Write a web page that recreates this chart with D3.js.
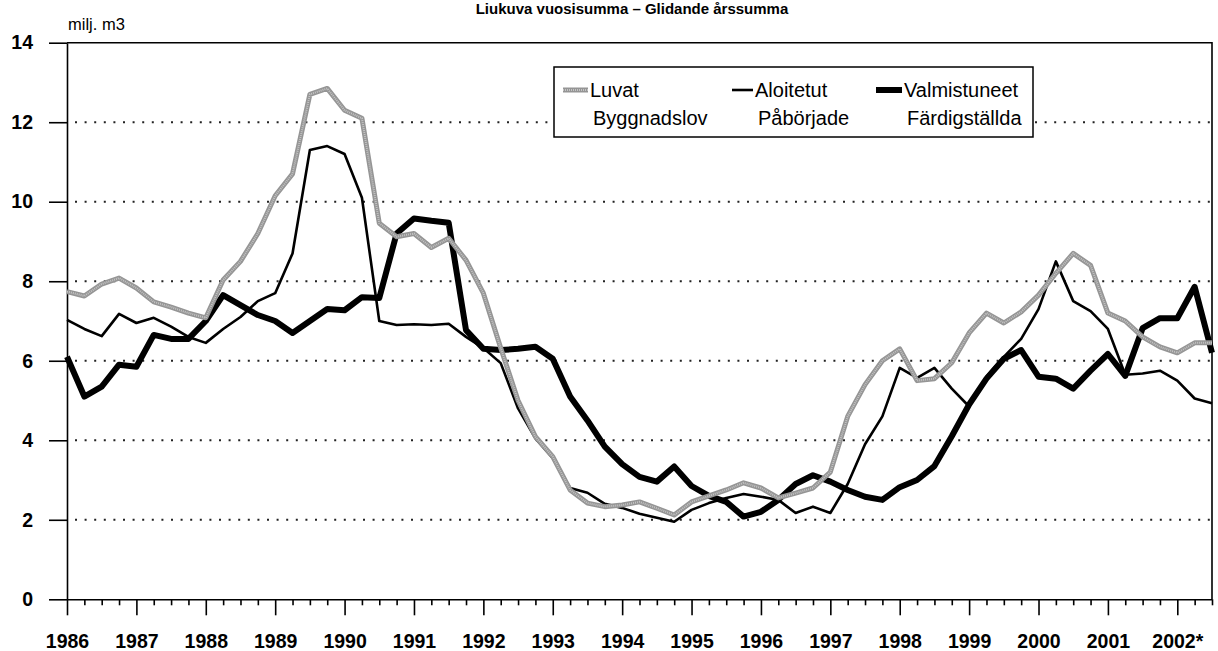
<!DOCTYPE html>
<html>
<head>
<meta charset="utf-8">
<script src="https://cdn.jsdelivr.net/npm/d3@7"></script>
<style>
  body { margin: 0; background: #fff; }
  svg { display: block; font-family: "Liberation Sans", Arial, sans-serif; }
</style>
</head>
<body>
<svg id="chart"></svg>
<script>
// quarterly moving annual sums, 1986 Q1 .. 2002 Q3, million m3
const startYear = 1986;
const yearLabels = ["1986", "1987", "1988", "1989", "1990", "1991", "1992", "1993", "1994",
  "1995", "1996", "1997", "1998", "1999", "2000", "2001", "2002*"];
const yTicks = [0, 2, 4, 6, 8, 10, 12, 14];

const luvat = [
  7.74, 7.63, 7.93, 8.08, 7.83, 7.48, 7.35, 7.2, 7.08, 8.03, 8.5, 9.2,
  10.15, 10.7, 12.7, 12.85, 12.3, 12.1, 9.46, 9.12, 9.2, 8.85, 9.08, 8.53,
  7.7, 6.32, 5.0, 4.09, 3.59, 2.75, 2.42, 2.33, 2.37, 2.45, 2.29, 2.12,
  2.45, 2.6, 2.75, 2.93, 2.8, 2.55, 2.67, 2.8, 3.2, 4.6, 5.4, 6.0,
  6.3, 5.5, 5.55, 5.95, 6.7, 7.2, 6.95, 7.23, 7.65, 8.2, 8.7, 8.4,
  7.2, 7.0, 6.6, 6.35, 6.2, 6.45, 6.45
];
const aloitetut = [
  7.03, 6.8, 6.62, 7.18, 6.95, 7.08, 6.86, 6.6, 6.45, 6.8, 7.1, 7.5,
  7.7, 8.7, 11.3, 11.4, 11.2, 10.1, 7.0, 6.9, 6.92, 6.9, 6.93, 6.6,
  6.32, 5.94, 4.8, 4.05, 3.55, 2.8, 2.68, 2.4, 2.3, 2.15, 2.05, 1.95,
  2.25, 2.42, 2.55, 2.65, 2.58, 2.5, 2.17, 2.33, 2.17, 2.9, 3.9, 4.6,
  5.82, 5.57, 5.82, 5.3, 4.85, 5.6, 6.1, 6.55, 7.3, 8.5, 7.5, 7.25,
  6.8, 5.65, 5.68, 5.75, 5.5, 5.05, 4.93
];
const valmistuneet = [
  6.1, 5.1, 5.35, 5.9, 5.85, 6.65, 6.55, 6.55, 7.0, 7.65, 7.4, 7.15,
  7.0, 6.7, 7.0, 7.3, 7.27, 7.6, 7.58, 9.2, 9.58, 9.52, 9.47, 6.77,
  6.3, 6.27, 6.3, 6.35, 6.05, 5.1, 4.5, 3.84, 3.4, 3.08, 2.96, 3.34,
  2.85, 2.6, 2.45, 2.08, 2.2, 2.5, 2.9, 3.12, 2.96, 2.75, 2.58, 2.5,
  2.82, 3.0, 3.35, 4.1, 4.9, 5.55, 6.05, 6.27, 5.6, 5.55, 5.3, 5.75,
  6.17, 5.62, 6.82, 7.07, 7.07, 7.86, 6.2
];
const seriesFi = ["Luvat", "Aloitetut", "Valmistuneet"];
const seriesSv = ["Byggnadslov", "Påbörjade", "Färdigställda"];

const w = 1218, h = 651;
const svg = d3.select("#chart").attr("width", w).attr("height", h);

const x = d3.scaleLinear().domain([1986, 2002.5]).range([67, 1212]);
const y = d3.scaleLinear().domain([0, 14]).range([599.3, 42.7]);

const quarters = luvat.map((d, i) => startYear + i / 4);
const years = yearLabels.map((d, i) => startYear + i);

// title
svg.append("text")
  .attr("x", 632).attr("y", 14)
  .attr("text-anchor", "middle")
  .style("font-size", "15px").style("font-weight", "bold")
  .text("Liukuva vuosisumma – Glidande årssumma");

svg.append("text")
  .attr("x", 68).attr("y", 30)
  .style("font-size", "16.5px")
  .text("milj. m3");

// dotted grid
svg.append("g")
  .selectAll("line")
  .data(yTicks.filter(d => d > 0 && d < 14))
  .join("line")
  .attr("x1", x(1986) + 8).attr("x2", x(2002.5))
  .attr("y1", d => y(d)).attr("y2", d => y(d))
  .attr("stroke", "#222").attr("stroke-width", 2)
  .attr("stroke-dasharray", "2,7.6");

// frame top and right
svg.append("path")
  .attr("d", `M${x(1986)},${y(14)}H${x(2002.5)}V${y(0)}`)
  .attr("fill", "none").attr("stroke", "#000").attr("stroke-width", 1.6);

// axes
const yAxis = d3.axisLeft(y).tickValues(yTicks).tickSize(18).tickSizeOuter(0).tickPadding(16);
const gy = svg.append("g").attr("transform", `translate(${x(1986)},0)`).call(yAxis);
gy.selectAll("text").style("font-size", "19.5px").style("font-weight", "bold").attr("fill", "#000");

const xMinor = d3.axisBottom(x).tickValues(quarters.filter(q => q % 1 !== 0)).tickSize(6).tickFormat("");
const gxm = svg.append("g").attr("transform", `translate(0,${y(0)})`).call(xMinor);
gxm.select(".domain").remove();

const xAxis = d3.axisBottom(x).tickValues(years).tickSize(16).tickSizeOuter(0)
  .tickPadding(19).tickFormat((d, i) => yearLabels[i]);
const gx = svg.append("g").attr("transform", `translate(0,${y(0)})`).call(xAxis);
gx.selectAll("text").style("font-size", "19.5px").style("font-weight", "bold").attr("fill", "#000");

svg.selectAll(".domain, .tick line").attr("stroke", "#000").attr("stroke-width", 1.6);

// lines
const line = d3.line().x((d, i) => x(quarters[i])).y(d => y(d));

svg.append("path").datum(valmistuneet)
  .attr("d", line).attr("fill", "none")
  .attr("stroke", "#000").attr("stroke-width", 6).attr("stroke-linejoin", "round");

svg.append("path").datum(aloitetut)
  .attr("d", line).attr("fill", "none")
  .attr("stroke", "#000").attr("stroke-width", 2.6).attr("stroke-linejoin", "round");

svg.append("path").datum(luvat)
  .attr("d", line).attr("fill", "none")
  .attr("stroke", "#959595").attr("stroke-width", 5).attr("stroke-linejoin", "round");
svg.append("path").datum(luvat)
  .attr("d", line).attr("fill", "none")
  .attr("stroke", "#c4c4c4").attr("stroke-width", 2)
  .attr("stroke-dasharray", "1,1");

// legend
const lg = svg.append("g");
lg.append("rect")
  .attr("x", 554).attr("y", 67).attr("width", 479).attr("height", 70)
  .attr("fill", "#fff").attr("stroke", "#000").attr("stroke-width", 1.5);

const legendX = [563, 732, 876];
const legendW = [25, 21, 26];
const legendStroke = [["#959595", 5], ["#000", 2.6], ["#000", 6]];
seriesFi.forEach((name, i) => {
  lg.append("line")
    .attr("x1", legendX[i]).attr("x2", legendX[i] + legendW[i])
    .attr("y1", 90).attr("y2", 90)
    .attr("stroke", legendStroke[i][0]).attr("stroke-width", legendStroke[i][1]);
  if (i === 0) {
    lg.append("line")
      .attr("x1", legendX[i]).attr("x2", legendX[i] + legendW[i])
      .attr("y1", 90).attr("y2", 90)
      .attr("stroke", "#c4c4c4").attr("stroke-width", 2).attr("stroke-dasharray", "1,1");
  }
  lg.append("text")
    .attr("x", legendX[i] + legendW[i] + 2).attr("y", 97)
    .style("font-size", "20px")
    .text(name);
  lg.append("text")
    .attr("x", legendX[i] + legendW[i] + 5).attr("y", 125)
    .style("font-size", "20px")
    .text(seriesSv[i]);
});
</script>
</body>
</html>
